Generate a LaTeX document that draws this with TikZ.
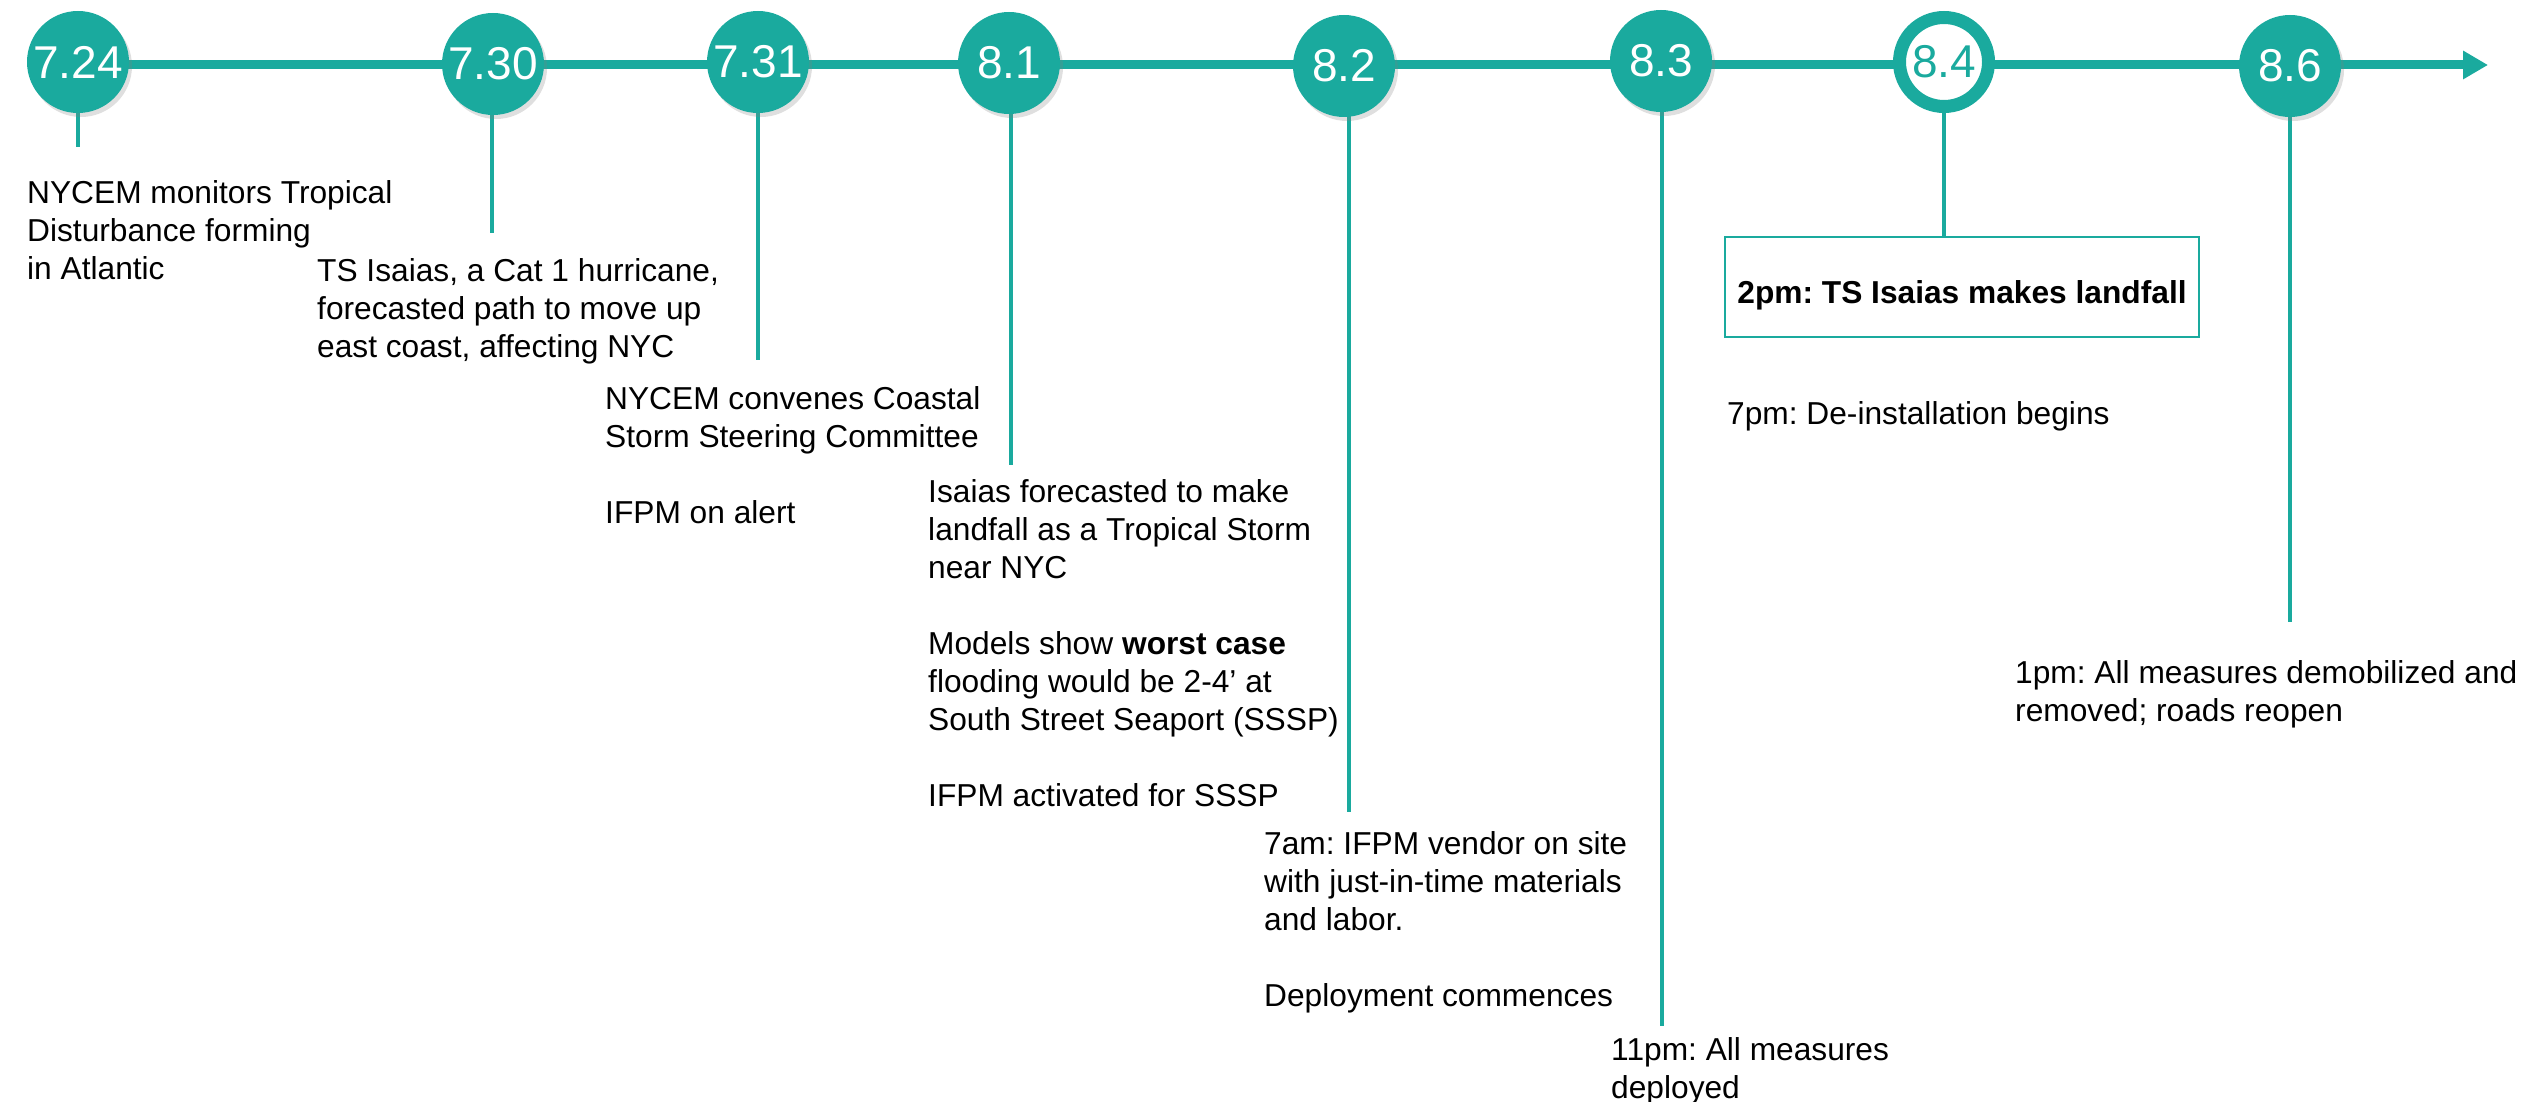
\documentclass[tikz,border=0pt]{standalone}
\usepackage{fontspec}
\setmainfont{Liberation Sans}
\usetikzlibrary{arrows.meta,shadows,backgrounds}
\definecolor{tl}{RGB}{26,170,158}
\frenchspacing
\begin{document}
\begin{tikzpicture}[x=1pt,y=-1pt,
  dot/.style={circle, fill=tl, minimum size=102pt, inner sep=0pt, text=white,
    font=\fontsize{46}{46}\selectfont,
    drop shadow={opacity=0.25, shadow xshift=3pt, shadow yshift=-4pt}},
  dotw/.style={circle, fill=white, draw=tl, line width=13pt, minimum size=89pt, inner sep=0pt, text=tl,
    font=\fontsize{46}{46}\selectfont,
    drop shadow={opacity=0.25, shadow xshift=3pt, shadow yshift=-4pt}},
  ev/.style={anchor=north west, inner sep=0pt, align=left, font=\fontsize{31.7}{38}\selectfont},
  stem/.style={draw=tl, line width=4.5pt},
  mainline/.style={draw=tl, line width=9pt, -{Triangle[length=25pt,width=27pt]}},
  boxev/.style={draw=tl, line width=2pt, minimum width=474pt, minimum height=100pt, inner sep=0pt,
    text height=39pt, text depth=7pt,
    font=\bfseries\fontsize{31.7}{38}\selectfont}]
\useasboundingbox (0,0) rectangle (2526,1102);

% date circles
\node[dot] (n724) at (78,62) {7.24};
\node[dot] (n730) at (493,64) {7.30};
\node[dot] (n731) at (758,62) {7.31};
\node[dot] (n81) at (1009,63) {8.1};
\node[dot] (n82) at (1344,66) {8.2};
\node[dot] (n83) at (1661,61) {8.3};
\node[dotw] (n84) at (1944,62) {8.4};
\node[dot] (n86) at (2290,66) {8.6};

% stem ends
\coordinate (start) at (78,65);
\coordinate (tip) at (2488,65);
\coordinate (e724) at (78,147);
\coordinate (e730) at (492,233);
\coordinate (e731) at (758,360);
\coordinate (e81) at (1011,465);
\coordinate (e82) at (1349,812);
\coordinate (e83) at (1662,1026);
\coordinate (e86) at (2290,622);

% landfall box
\node[boxev] (b84) at (1962,287) {2pm: TS Isaias makes landfall};

% event texts
\node[ev] (t724) at (27,180) {NYCEM monitors Tropical\\Disturbance forming\\in Atlantic};
\node[ev] (t730) at (317,258) {TS Isaias, a Cat 1 hurricane,\\forecasted path to move up\\east coast, affecting NYC};
\node[ev] (t731) at (605,386) {NYCEM convenes Coastal\\Storm Steering Committee\\[38pt]IFPM on alert};
\node[ev] (t81) at (928,479) {Isaias forecasted to make\\landfall as a Tropical Storm\\near NYC\\[38pt]Models show \textbf{worst case}\\flooding would be 2-4' at\\South Street Seaport (SSSP)\\[38pt]IFPM activated for SSSP};
\node[ev] (t82) at (1264,831) {7am: IFPM vendor on site\\with just-in-time materials\\and labor.\\[38pt]Deployment commences};
\node[ev] (t83) at (1611,1037) {11pm: All measures\\deployed};
\node[ev] (t84) at (1727,401) {7pm: De-installation begins};
\node[ev] (t86) at (2015,660) {1pm: All measures demobilized and\\removed; roads reopen};

\begin{pgfonlayer}{background}
\draw[mainline] (start) -- (tip);
\draw[stem] (n724) -- (e724);
\draw[stem] (n730 -| e730) -- (e730);
\draw[stem] (n731 -| e731) -- (e731);
\draw[stem] (n81 -| e81) -- (e81);
\draw[stem] (n82 -| e82) -- (e82);
\draw[stem] (n83 -| e83) -- (e83);
\draw[stem] (n84) -- (n84 |- b84.north);
\draw[stem] (n86) -- (e86);
\end{pgfonlayer}
\end{tikzpicture}
\end{document}
